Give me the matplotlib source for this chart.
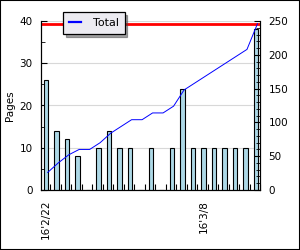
import matplotlib
matplotlib.use('Agg')
import matplotlib.pyplot as plt
import numpy as np
from matplotlib.patches import Rectangle

# pages read per day, 16'2/22 .. 16'3/13
pages = [26, 14, 12, 8, 0, 10, 14, 10, 10, 0, 10, 0, 10, 24, 10, 10, 10, 10, 10, 10, 38]
total = list(np.cumsum(pages))
goal = 246
label_pos = [0, 15]
label_txt = ["16'2/22", "16'3/8"]

days = np.arange(len(pages))

fig = plt.figure(figsize=(3, 2.5), dpi=100)
ax = fig.add_axes([0.137, 0.24, 0.73, 0.676])
ax2 = ax.twinx()

# bars on left axis
ax.bar(days, pages, width=0.45, color='#add8e6', edgecolor='black', linewidth=0.8, zorder=3)
ax.set_ylim(0, 40)
ax.set_xlim(-0.48, 20.38)
ax.set_yticks([0, 10, 20, 30, 40])
ax.set_yticks([5, 15, 25, 35], minor=True)
ax.grid(axis='y', color='#d8d8d8', linewidth=0.8, zorder=0)
ax.set_ylabel('Pages', fontsize=7.5, labelpad=3)

ax.set_xticks(label_pos)
ax.set_xticklabels(label_txt, rotation=90, fontsize=7.5)
ax.set_xticks(days + 0.4, minor=True)
ax.tick_params(axis='x', which='major', length=0, pad=7)
ax.tick_params(axis='x', which='minor', direction='in', length=4, width=0.8)
ax.tick_params(axis='y', which='major', direction='in', length=4, labelsize=7.5, pad=6)
ax.tick_params(axis='y', which='minor', direction='in', length=3)

# cumulative total on right axis
ax2.plot(days + 0.15, total, color='blue', linewidth=0.7, label='Total', zorder=4)
ax2.axhline(goal, color='red', linewidth=2, zorder=2)
ax2.set_ylim(0, 250)
ax2.set_yticks([0, 50, 100, 150, 200, 250])
ax2.set_yticks(np.arange(0, 251, 10), minor=True)
ax2.tick_params(axis='y', which='major', direction='in', length=4, labelsize=7.5, pad=6)
ax2.tick_params(axis='y', which='minor', direction='in', length=3)

for a in (ax, ax2):
    a.spines['top'].set_visible(False)
    for s in ('left', 'right', 'bottom'):
        a.spines[s].set_linewidth(0.8)

leg = ax2.legend(loc='center', bbox_to_anchor=(0.313, 0.908), bbox_transform=fig.transFigure,
                 fontsize=8, fancybox=False, shadow=True, framealpha=1,
                 facecolor='#ecebf1', edgecolor='black', handlelength=1.1,
                 handletextpad=1.0, borderpad=0.55, borderaxespad=0)
leg.get_frame().set_linewidth(0.9)
for h in leg.get_lines():
    h.set_linewidth(1.6)

fig.patches.append(Rectangle((0, 0), 1, 1, transform=fig.transFigure, fill=False,
                             edgecolor='black', linewidth=1.5))

fig.savefig('out.png', dpi=100)
